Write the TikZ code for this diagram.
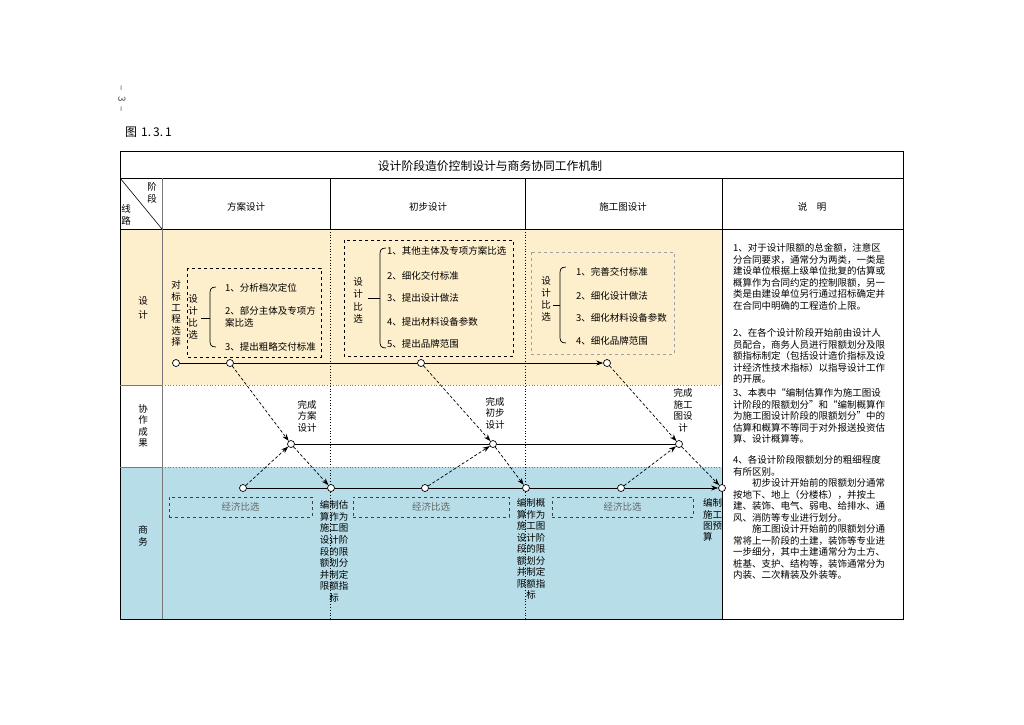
\documentclass[tikz,border=0pt]{standalone}
\usepackage{fontspec}
\setmainfont{Noto Sans CJK SC}
\usetikzlibrary{arrows.meta,positioning}
\definecolor{shejibg}{RGB}{253,238,204}
\definecolor{shangwubg}{RGB}{183,222,232}
\definecolor{xiangray}{RGB}{120,120,120}
\tikzset{
  zi/.style={inner sep=0pt, font={\fontsize{9.5}{11.5}\selectfont}},
  shuzi/.style={zi, align=center},
  tiaomu/.style={zi, anchor=west, align=left},
  quan/.style={circle, draw, fill=white, inner sep=0pt, minimum size=7pt, line width=0.7pt},
  xuxian/.style={->, dash pattern=on 3pt off 2pt, line width=0.7pt},
  shixian/.style={line width=0.7pt},
  xukuang/.style={dashed, line width=0.8pt},
  jingji/.style={draw=black!75, dashed, line width=0.8pt, text=black!60, inner sep=0pt,
    minimum height=20pt, font={\fontsize{9.5}{11.5}\selectfont}},
  shuoming/.style={inner sep=0pt, anchor=north west, align=left, font={\fontsize{9.5}{11.5}\selectfont}}
}
\begin{document}
\begin{tikzpicture}[x=1pt, y=-1pt, >={Stealth[length=7pt,width=5pt]}]
\useasboundingbox[fill=white] (0,0) rectangle (1024,724);

% page mark and figure number
\node[inner sep=0pt, rotate=-90, text=black!70, font={\fontsize{10}{12}\selectfont}] (yema) at (122,99) {–\hspace{5pt}3\hspace{5pt}–};
\node[inner sep=0pt, anchor=west, font={\fontsize{12}{14}\selectfont}] (tuhao) at (125,132) {图\hspace{4pt}1.\,3.\,1};

% row colours
\fill[shejibg] (120,229) rectangle (722,385);
\fill[shangwubg] (120,467) rectangle (722,619);

% grid
\draw[line width=0.8pt] (120,151) rectangle (903,619);
\draw[line width=0.8pt] (120,178) -- (903,178);
\draw[line width=0.8pt] (120,229) -- (903,229);
\draw[xiangray, line width=0.7pt] (162,178) -- (162,619);
\draw[line width=0.9pt] (330,178) -- (330,229);
\draw[line width=0.9pt] (525,178) -- (525,229);
\draw[line width=0.9pt] (722,178) -- (722,619);
\draw[dotted, line width=0.8pt] (330,229) -- (330,619);
\draw[dotted, line width=0.8pt] (525,229) -- (525,619);
\draw[xiangray, line width=0.7pt] (120,385) -- (162,385);
\draw[xiangray, line width=0.7pt] (120,467) -- (162,467);
\draw[xiangray, dotted, line width=0.8pt] (162,385) -- (722,385);
\draw[xiangray, dotted, line width=0.8pt] (162,467) -- (722,467);
\draw[line width=0.6pt] (120,178) -- (162,229);

% headings
\node[inner sep=0pt, font={\fontsize{11.8}{14}\selectfont}] (biaoti) at (490,166) {设计阶段造价控制设计与商务协同工作机制};
\node[shuzi] (jieduan) at (152,193) {阶\\段};
\node[shuzi] (xianlu) at (126,215) {线\\路};
\node[zi] (fangan) at (246,207) {方案设计};
\node[zi] (chubu) at (428,207) {初步设计};
\node[zi] (shigong) at (623,207) {施工图设计};
\node[zi] (shuoming) at (812,207) {说\quad 明};
\node[shuzi, font={\fontsize{9.5}{14}\selectfont}] (hsheji) at (143,308) {设\\计};
\node[shuzi] (hxiezuo) at (143,426) {协\\作\\成\\果};
\node[shuzi] (hshangwu) at (143,536) {商\\务};

% design row, scheme stage
\draw[xukuang] (187,268) rectangle (321,357);
\node[shuzi, font={\fontsize{9.5}{11.4}\selectfont}] (duibiao) at (176,313.5) {对\\标\\工\\程\\选\\择};
\node[shuzi, font={\fontsize{9.5}{12}\selectfont}] (bixuan1) at (193,317) {设\\计\\比\\选};
\draw[line width=0.7pt] (201,318) -- (210,318);
\draw[line width=0.7pt] (216,287) .. controls (210,287) and (210,290) .. (210,295) -- (210,339) .. controls (210,344) and (210,347) .. (216,347);
\node[tiaomu] (f1) at (225,288) {1、分析档次定位};
\node[tiaomu] (f2) at (225,317) {2、部分主体及专项方\\案比选};
\node[tiaomu] (f3) at (225,347) {3、提出粗略交付标准};

% design row, preliminary stage
\draw[xukuang] (344,240) rectangle (513,356);
\node[shuzi, font={\fontsize{9.5}{12.3}\selectfont}] (bixuan2) at (358,300.5) {设\\计\\比\\选};
\draw[line width=0.7pt] (368,298) -- (380,298);
\draw[line width=0.7pt] (386,248) .. controls (380,248) and (380,251) .. (380,256) -- (380,340) .. controls (380,345) and (380,348) .. (386,348);
\node[tiaomu] (c1t) at (387,251) {1、其他主体及专项方案比选};
\node[tiaomu] (c2t) at (387,276) {2、细化交付标准};
\node[tiaomu] (c3t) at (387,298) {3、提出设计做法};
\node[tiaomu] (c4t) at (387,322) {4、提出材料设备参数};
\node[tiaomu] (c5t) at (387,344) {5、提出品牌范围};

% design row, construction drawing stage
\draw[xukuang, xiangray!70] (531,252) rectangle (674,354);
\node[shuzi, font={\fontsize{9.5}{12.3}\selectfont}] (bixuan3) at (546,299) {设\\计\\比\\选};
\draw[line width=0.7pt] (553,305) -- (560,305);
\draw[line width=0.7pt] (566,267) .. controls (560,267) and (560,270) .. (560,275) -- (560,335) .. controls (560,340) and (560,343) .. (566,343);
\node[tiaomu] (s1t) at (576,272) {1、完善交付标准};
\node[tiaomu] (s2t) at (576,296) {2、细化设计做法};
\node[tiaomu] (s3t) at (576,318) {3、细化材料设备参数};
\node[tiaomu] (s4t) at (576,341) {4、细化品牌范围};

% result labels
\node[shuzi] (wc1) at (307,416) {完成\\方案\\设计};
\node[shuzi] (wc2) at (495,413) {完成\\初步\\设计};
\node[shuzi] (wc3) at (683,410.5) {完成\\施工\\图设\\计};

% economic comparison boxes
\node[jingji, minimum width=143pt] (jj1) at (240.5,507) {经济比选};
\node[jingji, minimum width=156pt] (jj2) at (431,507) {经济比选};
\node[jingji, minimum width=141pt] (jj3) at (622.5,507) {经济比选};

% business texts
\node[shuzi, font={\fontsize{9.5}{11.6}\selectfont}] (gusuan) at (334,551.5) {编制估\\算作为\\施工图\\设计阶\\段的限\\额划分\\并制定\\限额指\\标};
\node[shuzi, font={\fontsize{9.5}{11.5}\selectfont}] (gaisuan) at (531,549) {编制概\\算作为\\施工图\\设计阶\\段的限\\额划分\\并制定\\限额指\\标};
\node[zi, anchor=north west, align=left, font={\fontsize{9.5}{11.3}\selectfont}] (yusuan) at (703,498.5) {编制\\施工\\图预\\算};

% circles
\node[quan] (s0) at (176,363) {};
\node[quan] (s1) at (230,363) {};
\node[quan] (s2) at (421,363) {};
\node[quan] (s3) at (607,363) {};
\node[quan] (c1) at (291,444) {};
\node[quan] (c2) at (493,444) {};
\node[quan] (c3) at (679,444) {};
\node[quan] (b0) at (243,488) {};
\node[quan] (b1) at (331,488) {};
\node[quan] (b2) at (425,488) {};
\node[quan] (b3) at (526,488) {};
\node[quan] (b4) at (621,488) {};
\node[quan] (b5) at (722,488) {};

% solid lines
\draw[shixian] (s0) -- (s1);
\draw[shixian] (s1) -- (s2);
\draw[shixian, ->] (s2) -- (s3);
\draw[shixian] (c1) -- (c2);
\draw[shixian] (c2) -- (c3);
\foreach \a/\b in {b0/b1, b1/b2, b2/b3, b3/b4}
  \draw[shixian] (\a) -- (\b);
\draw[shixian, ->] (b4) -- (b5);

% dashed arrows
\draw[xuxian] (s1) -- (c1);
\draw[xuxian] (b0) -- (c1);
\draw[xuxian] (c1) -- (b1);
\draw[xuxian] (s2) -- (c2);
\draw[xuxian] (b2) -- (c2);
\draw[xuxian] (c2) -- (b3);
\draw[xuxian] (s3) -- (c3);
\draw[xuxian] (b4) -- (c3);
\draw[xuxian] (c3) -- (b5);

% notes
\node[shuoming] (p1) at (733,243.5) {1、对于设计限额的总金额，注意区\\分合同要求，通常分为两类，一类是\\建设单位根据上级单位批复的估算或\\概算作为合同约定的控制限额，另一\\类是由建设单位另行通过招标确定并\\在合同中明确的工程造价上限。};
\node[shuoming] (p2) at (733,328.5) {2、在各个设计阶段开始前由设计人\\员配合，商务人员进行限额划分及限\\额指标制定（包括设计造价指标及设\\计经济性技术指标）以指导设计工作\\的开展。};
\node[shuoming] (p3) at (733,388.5) {3、本表中“编制估算作为施工图设\\计阶段的限额划分”和“编制概算作\\为施工图设计阶段的限额划分”中的\\估算和概算不等同于对外报送投资估\\算、设计概算等。};
\node[shuoming] (p4) at (733,455.5) {4、各设计阶段限额划分的粗细程度\\有所区别。\\\hspace*{19pt}初步设计开始前的限额划分通常\\按地下、地上（分楼栋），并按土\\建、装饰、电气、弱电、给排水、通\\风、消防等专业进行划分。\\\hspace*{19pt}施工图设计开始前的限额划分通\\常将上一阶段的土建，装饰等专业进\\一步细分，其中土建通常分为土方、\\桩基、支护、结构等，装饰通常分为\\内装、二次精装及外装等。};
\end{tikzpicture}
\end{document}
